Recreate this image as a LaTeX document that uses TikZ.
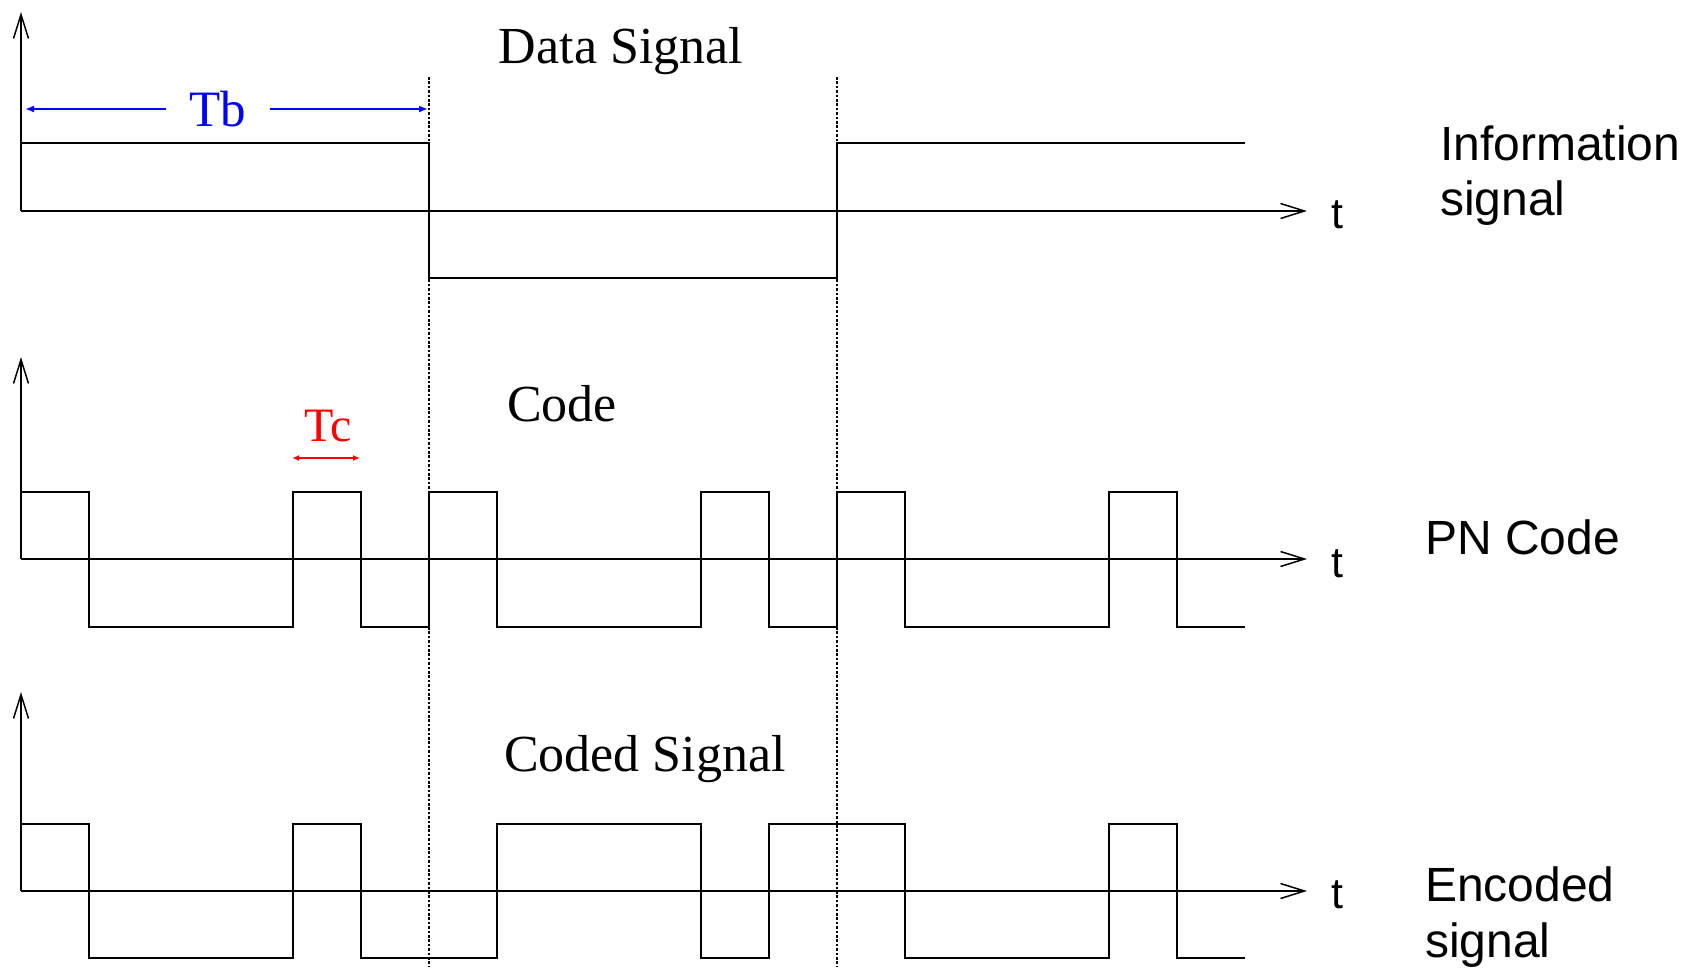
\documentclass[tikz,border=0pt]{standalone}
\usepackage{fontspec}
\setmainfont{Liberation Serif}
\newfontfamily\labsans{Liberation Sans}
\usetikzlibrary{arrows.meta}
\definecolor{tbblue}{RGB}{0,0,255}
\definecolor{tcred}{RGB}{255,0,0}
\begin{document}
\begin{tikzpicture}[x=1pt,y=-1pt,
  wave/.style={line width=2pt,black,line join=miter},
  axisline/.style={line width=2pt,black,-{Straight Barb[length=24pt,width=15pt,line width=1.5pt]}},
  divider/.style={line width=1.3pt,black,dash pattern=on 2.6pt off 1.8pt},
  serlab/.style={font=\fontsize{52}{60}\selectfont,inner sep=0pt,anchor=base},
  sanslab/.style={font=\labsans\fontsize{48}{56}\selectfont,inner sep=0pt,anchor=base west},
  tlab/.style={font=\labsans\fontsize{43}{50}\selectfont,inner sep=0pt,anchor=base},
  tbarrow/.style={line width=2.4pt,tbblue,-{Latex[length=9pt,width=7pt]}},
  tcarrow/.style={line width=2pt,tcred,{Latex[length=7pt,width=6pt]}-{Latex[length=7pt,width=6pt]}}
]
\useasboundingbox (0,0) rectangle (1686,967);

% ---------- axes ----------
\coordinate (o1) at (21,211);  \coordinate (y1) at (21,12);  \coordinate (x1) at (1307,211);
\coordinate (o2) at (21,559);  \coordinate (y2) at (21,357); \coordinate (x2) at (1307,559);
\coordinate (o3) at (21,891);  \coordinate (y3) at (21,692); \coordinate (x3) at (1307,891);
\draw[axisline] (o1) -- (y1);
\draw[axisline] (o1) -- (x1);
\draw[axisline] (o2) -- (y2);
\draw[axisline] (o2) -- (x2);
\draw[axisline] (o3) -- (y3);
\draw[axisline] (o3) -- (x3);

\node[tlab] (t1) at (1337,228) {t};
\node[tlab] (t2) at (1337,577) {t};
\node[tlab] (t3) at (1337,908) {t};

% ---------- bit boundaries ----------
\coordinate (d1top) at (429,77); \coordinate (d1bot) at (429,967);
\coordinate (d2top) at (837,77); \coordinate (d2bot) at (837,967);
\draw[divider] (d1top) -- (d1bot);
\draw[divider] (d2top) -- (d2bot);

% ---------- information signal ----------
\draw[wave] (21,143) -- (429,143) -- (429,278) -- (837,278) -- (837,143) -- (1245,143);

% ---------- PN code ----------
\draw[wave] (21,492) -- (89,492) -- (89,627) -- (293,627) -- (293,492) -- (361,492) -- (361,627)
  -- (429,627) -- (429,492) -- (497,492) -- (497,627) -- (701,627) -- (701,492) -- (769,492)
  -- (769,627) -- (837,627) -- (837,492) -- (905,492) -- (905,627) -- (1109,627) -- (1109,492)
  -- (1177,492) -- (1177,627) -- (1245,627);

% ---------- encoded signal ----------
\draw[wave] (21,824) -- (89,824) -- (89,958) -- (293,958) -- (293,824) -- (361,824) -- (361,958)
  -- (497,958) -- (497,824) -- (701,824) -- (701,958) -- (769,958) -- (769,824) -- (905,824)
  -- (905,958) -- (1109,958) -- (1109,824) -- (1177,824) -- (1177,958) -- (1245,958);

% ---------- titles ----------
\node[serlab] (datasig) at (621,63) {Data Signal};
\node[serlab] (code) at (562,421) {Code};
\node[serlab] (codedsig) at (645,771) {Coded Signal};

% ---------- Tb ----------
\coordinate (tbL) at (25,109);
\coordinate (tbR) at (428,109);
\node[serlab,font=\fontsize{51}{60}\selectfont,text=tbblue,inner xsep=23pt] (tb) at (218,126) {Tb};
\draw[tbarrow] (tb.west |- tbL) -- (tbL);
\draw[tbarrow] (tb.east |- tbR) -- (tbR);

% ---------- Tc ----------
\node[serlab,font=\fontsize{48}{56}\selectfont,text=tcred] (tc) at (328,441) {Tc};
\coordinate (tcL) at (292,458);
\coordinate (tcR) at (360,458);
\draw[tcarrow] (tcL) -- (tcR);

% ---------- right labels ----------
\node[sanslab] (info1) at (1440,160) {Information};
\node[sanslab] (info2) at (1440,215) {signal};
\node[sanslab] (pn) at (1425,554) {PN Code};
\node[sanslab] (enc1) at (1425,901) {Encoded};
\node[sanslab] (enc2) at (1425,957) {signal};
\end{tikzpicture}
\end{document}
